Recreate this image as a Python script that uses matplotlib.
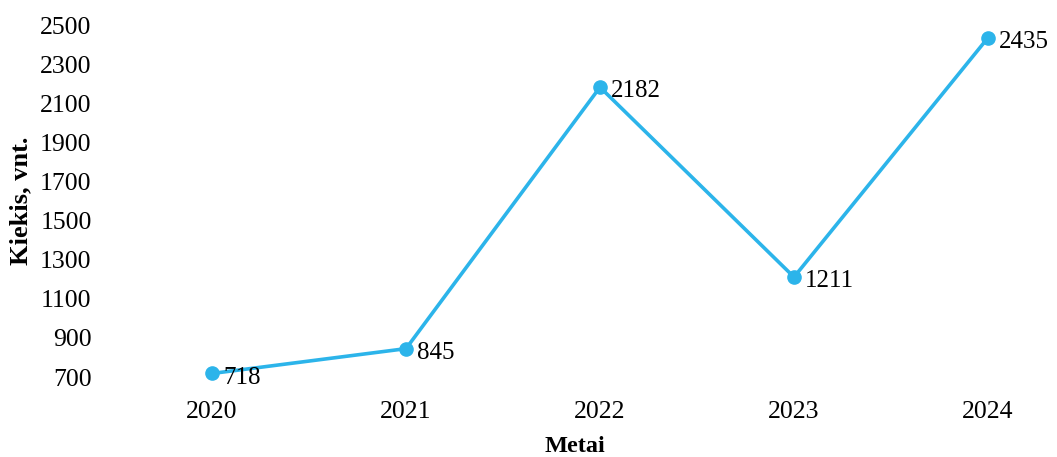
import matplotlib.pyplot as plt

plt.rcParams['font.family'] = ['Liberation Serif', 'DejaVu Serif']

# Data
years = [2020, 2021, 2022, 2023, 2024]
amounts = [718, 845, 2182, 1211, 2435]
y_ticks = list(range(700, 2501, 200))

color = '#2cb4ea'

fig = plt.figure(figsize=(10.57, 4.57), dpi=100)
ax = fig.add_axes([100 / 1057, (457 - 377) / 457, (1050 - 100) / 1057, (377 - 25) / 457])

ax.plot(years, amounts, color=color, linewidth=2.6, marker='o', markersize=9.5,
        clip_on=False, zorder=3)

for x, y in zip(years, amounts):
    ax.annotate(str(y), (x, y), xytext=(8, -3), textcoords='offset points',
                ha='left', va='center', fontsize=18)

ax.set_xlim(2020 - 112 / 194, 2024 + 62 / 194)
ax.set_ylim(700, 2500)
ax.set_xticks(years)
ax.set_yticks(y_ticks)
ax.tick_params(axis='both', length=0, labelsize=18.5)
ax.tick_params(axis='y', pad=6)
ax.tick_params(axis='x', pad=17)

for s in ax.spines.values():
    s.set_visible(False)

ax.set_xlabel('Metai', fontsize=17.5, fontweight='bold', labelpad=10)
ax.set_ylabel('Kiekis, vnt.', fontsize=19, fontweight='bold', labelpad=6)

fig.savefig('out.png', dpi=100)
